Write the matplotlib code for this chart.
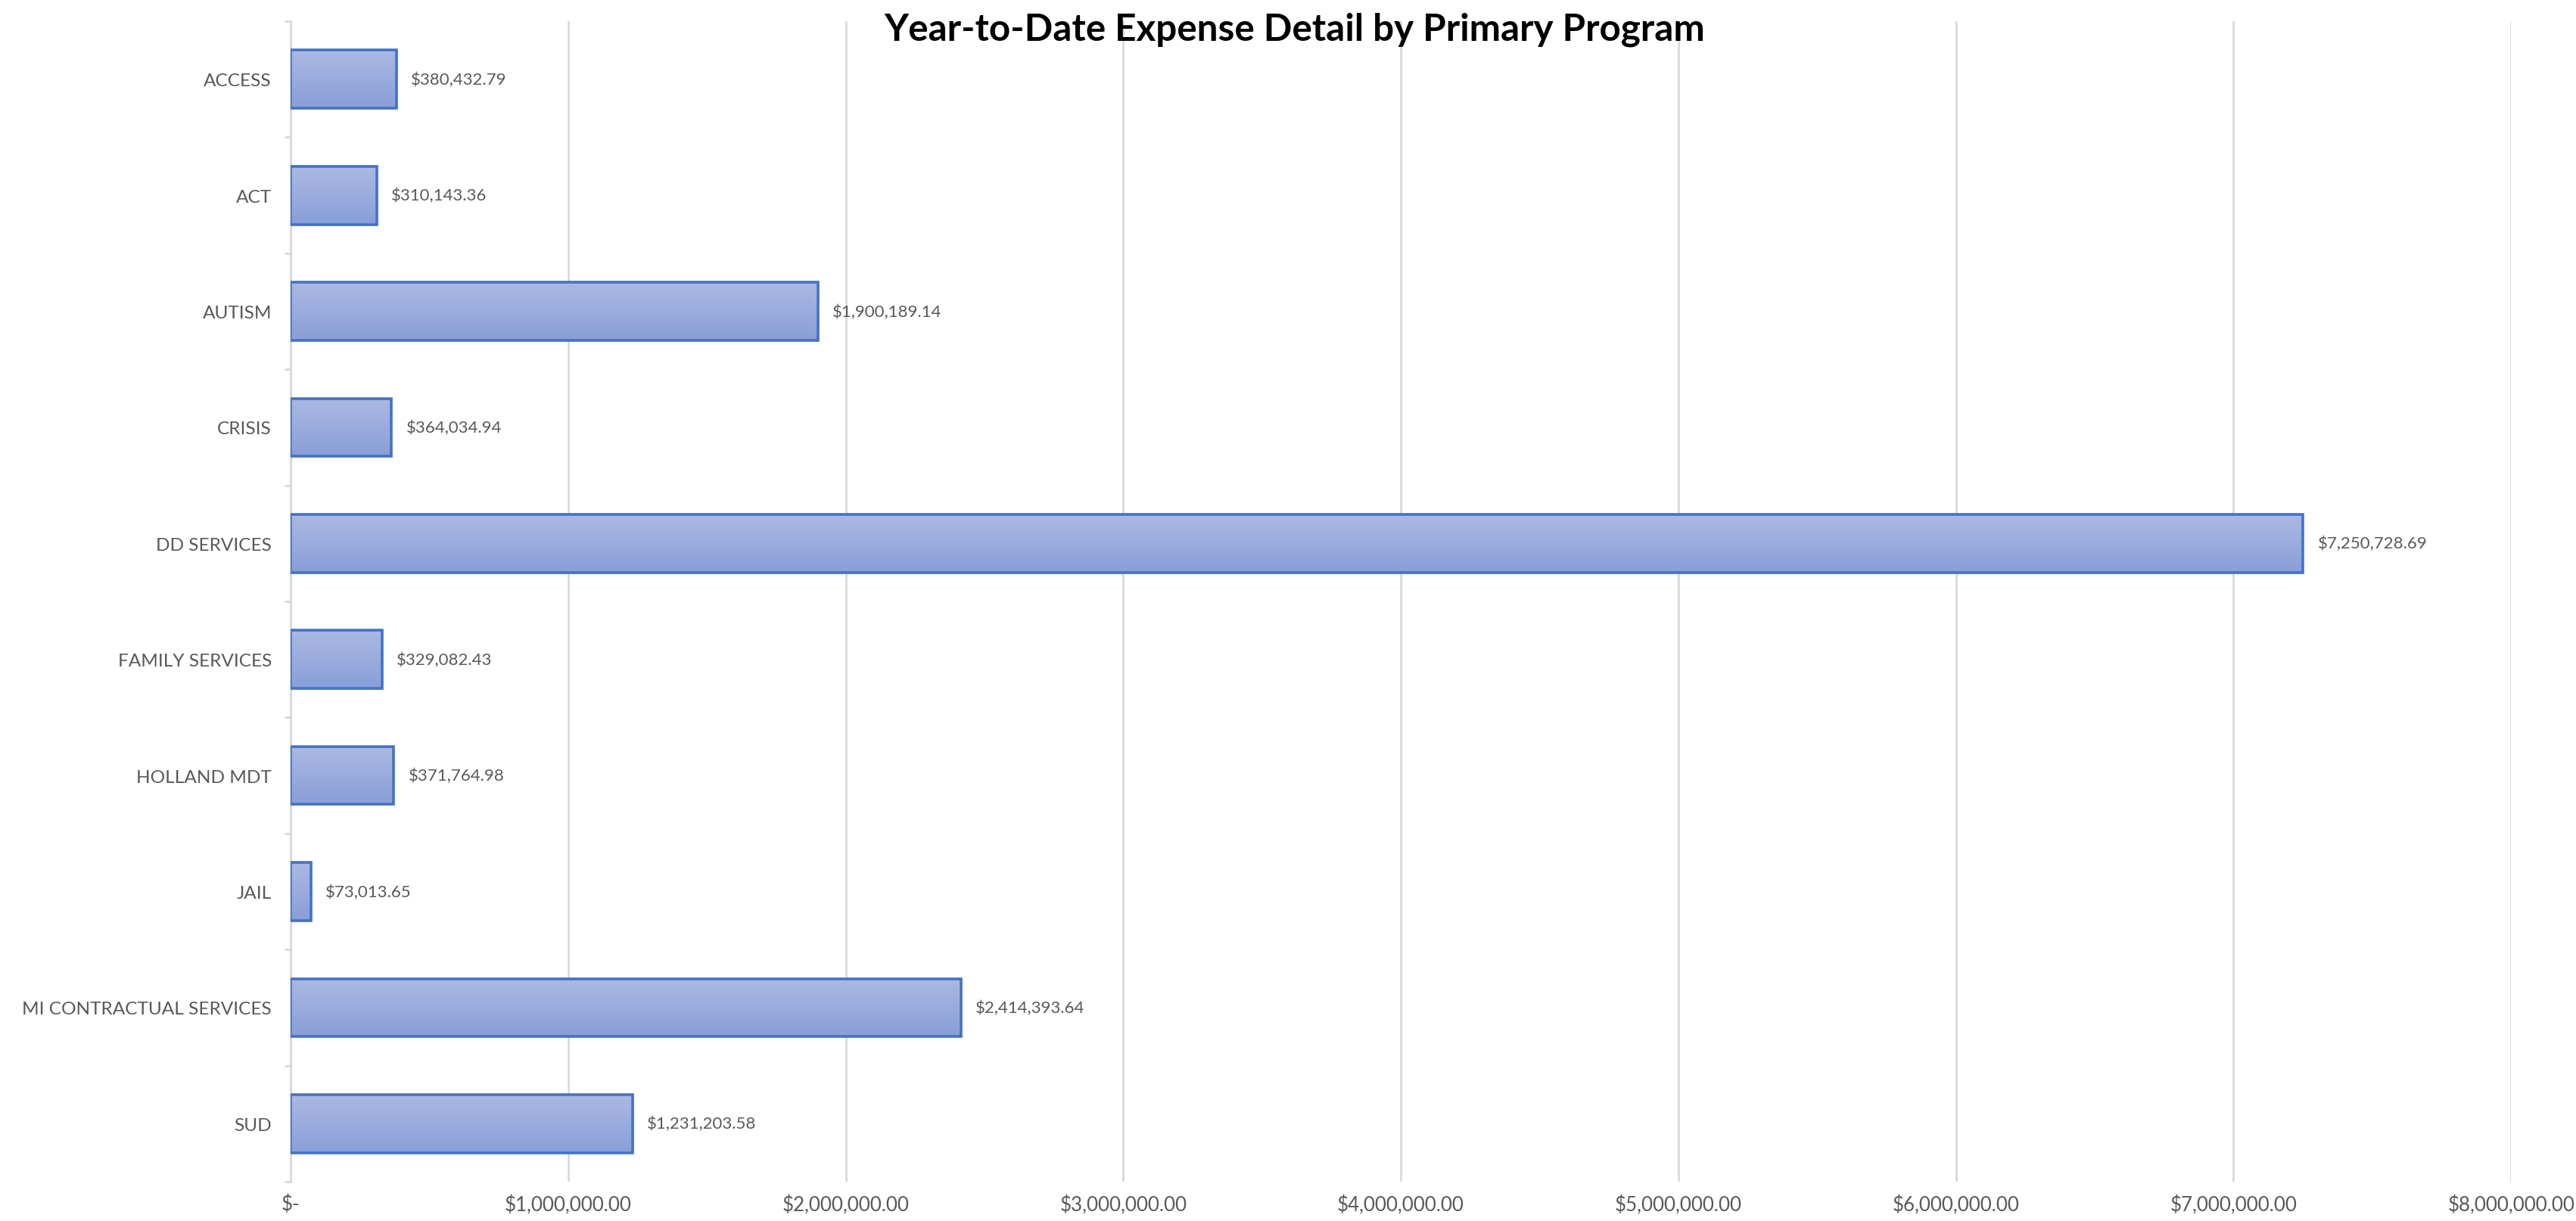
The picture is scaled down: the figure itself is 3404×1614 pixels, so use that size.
import numpy as np
import matplotlib
matplotlib.use("Agg")
import matplotlib.pyplot as plt
from matplotlib.colors import LinearSegmentedColormap
from matplotlib.patches import Rectangle

programs = ["ACCESS", "ACT", "AUTISM", "CRISIS", "DD SERVICES", "FAMILY SERVICES",
            "HOLLAND MDT", "JAIL", "MI CONTRACTUAL SERVICES", "SUD"]
expenses = [380432.79, 310143.36, 1900189.14, 364034.94, 7250728.69, 329082.43,
            371764.98, 73013.65, 2414393.64, 1231203.58]
x_ticks = [0, 1000000, 2000000, 3000000, 4000000, 5000000, 6000000, 7000000, 8000000]

plt.rcParams['font.family'] = ['Lato', 'DejaVu Sans']

fig = plt.figure(figsize=(17.02, 8.075), dpi=200)
ax = fig.add_axes([0.1128, 0.0322, 0.862, 0.9498])

grad = LinearSegmentedColormap.from_list("bar", ["#ABB8E2", "#899FD8"])
bar_h = 0.5
ypos = np.arange(len(programs))

bars = ax.barh(ypos, expenses, height=bar_h, color="none",
               edgecolor="#4472C4", linewidth=1.3, zorder=3)
for rect in bars:
    x0, y0 = rect.get_x(), rect.get_y()
    w, h = rect.get_width(), rect.get_height()
    im = ax.imshow(np.linspace(0, 1, 100).reshape(-1, 1), cmap=grad, aspect="auto",
                   extent=[x0, x0 + w, y0 + h, y0], origin="upper", zorder=2)
    clip = Rectangle((x0, y0), w, h, transform=ax.transData)
    im.set_clip_path(clip)

for y, v in zip(ypos, expenses):
    ax.annotate("${:,.2f}".format(v), (v, y), xytext=(7, 0), textcoords="offset points",
                va="center", ha="left", fontsize=8, color="#595959")

ax.set_xlim(0, 8000000)
ax.set_ylim(len(programs) - 0.5, -0.5)
ax.set_xticks(x_ticks)
ax.set_xticklabels(["$-"] + ["${:,.2f}".format(t) for t in x_ticks[1:]])
ax.set_yticks(ypos)
ax.set_yticklabels(programs)
ax.set_yticks(np.arange(-0.5, len(programs)), minor=True)

ax.tick_params(axis="x", length=0, pad=6, labelsize=9.3, labelcolor="#595959")
ax.tick_params(axis="y", which="major", length=0, pad=9, labelsize=8.8, labelcolor="#595959")
ax.tick_params(axis="y", which="minor", length=3, width=1, color="#D9D9D9")

ax.grid(axis="x", color="#D9D9D9", linewidth=1, zorder=0)
ax.set_axisbelow(True)
for s in ["top", "right", "bottom"]:
    ax.spines[s].set_visible(False)
ax.spines["left"].set_color("#D9D9D9")
ax.spines["left"].set_linewidth(1)

fig.text(0.5026, 0.976, "Year-to-Date Expense Detail by Primary Program",
         ha="center", va="center", fontsize=17.8, fontweight="bold", color="black")

fig.savefig("out.png", dpi=200)
